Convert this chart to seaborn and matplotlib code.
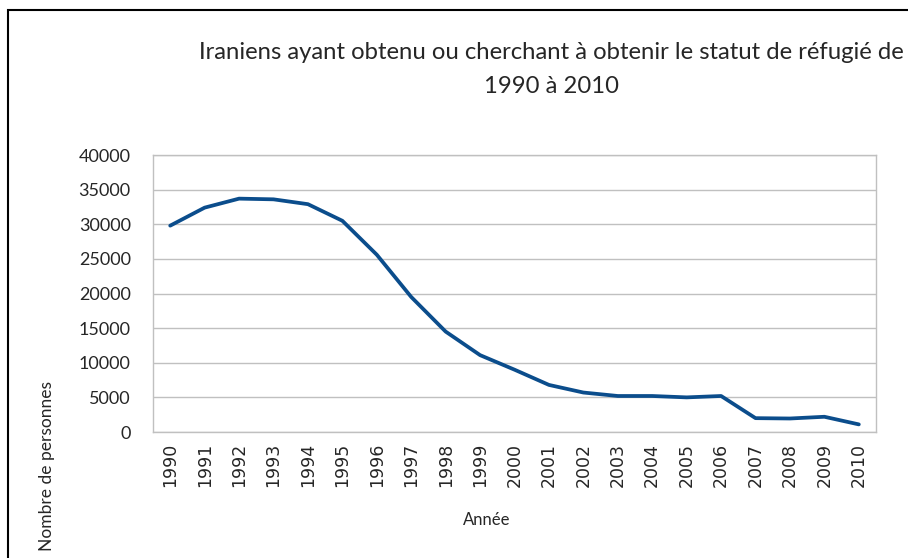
import pandas as pd
import matplotlib
matplotlib.use("Agg")
import matplotlib.pyplot as plt
import seaborn as sns
from matplotlib.patches import Rectangle

# data
years = list(range(1990, 2011))
refugees = [29800, 32400, 33700, 33600, 32900, 30500, 25600, 19500, 14500, 11100,
            9000, 6800, 5700, 5200, 5200, 5000, 5200, 2000, 1950, 2200, 1100]

title_text = "Iraniens ayant obtenu ou cherchant à obtenir le statut de réfugié de\n1990 à 2010"
x_label = "Année"
y_label = "Nombre de personnes"

df = pd.DataFrame({"Année": years, "Personnes": refugees})

sns.set_style("white")
plt.rcParams["font.family"] = ["Lato", "DejaVu Sans"]

fig = plt.figure(figsize=(9.08, 5.58), dpi=100)
ax = fig.add_axes([0.1685, 0.2258, 0.7963, 0.4964])

sns.lineplot(data=df, x="Année", y="Personnes", ax=ax, color="#0b4d8c", linewidth=2.7)

ax.set_xlim(1989.5, 2010.5)
ax.set_ylim(0, 40000)
ax.set_yticks(range(0, 40001, 5000))
ax.set_xticks(years)
ax.set_xticklabels([str(y) for y in years], rotation=90, fontsize=12.5, family="DejaVu Sans")
ax.tick_params(axis="y", labelsize=13, length=0, pad=16)
ax.tick_params(axis="x", length=0, pad=8)
ax.yaxis.grid(True, color="#c0c0c0", linewidth=1)
for s in ax.spines.values():
    s.set_color("#c0c0c0")
    s.set_linewidth(1)
ax.set_xlabel("")
ax.set_ylabel("")

fig.text(0.536, 0.068, x_label, ha="center", va="center", fontsize=12)
fig.text(0.0514, 0.164, y_label, ha="center", va="center", rotation=90, fontsize=12.5)
fig.text(0.607, 0.875, title_text, ha="center", va="center", fontsize=17.2, linespacing=1.75)

# outer frame of the chart area
fig.patches.append(Rectangle((8 / 908, -0.1), 1.2, 1 - 10 / 558 + 0.1, transform=fig.transFigure,
                             fill=False, edgecolor="black", linewidth=1.5))

fig.savefig("out.png", dpi=100)
